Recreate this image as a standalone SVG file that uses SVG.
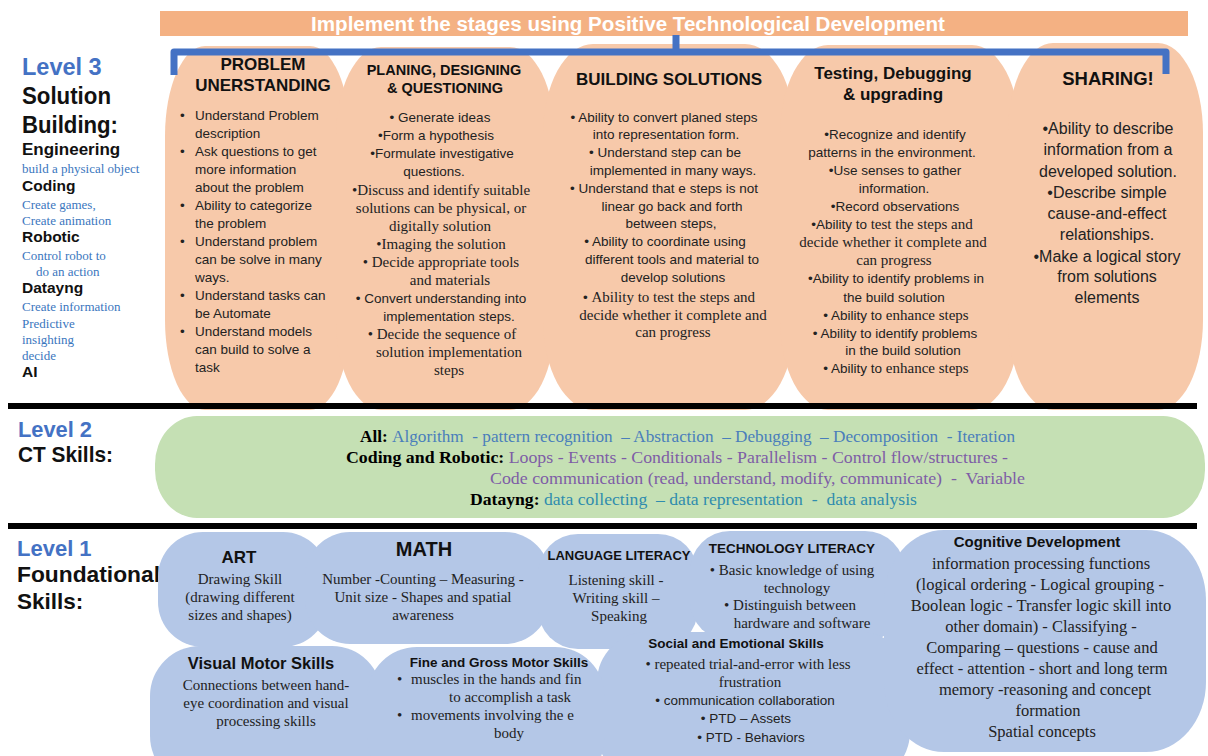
<svg xmlns="http://www.w3.org/2000/svg" width="1208" height="756" viewBox="0 0 1208 756">
<style>
text{font-family:"Liberation Sans",Arial,sans-serif;fill:#222;}
.sr{font-family:"Liberation Serif","Times New Roman",serif;}
.m{text-anchor:middle;}
.hd{font-weight:bold;fill:#111;}
.lv{font-weight:bold;fill:#4472C4;}
.lk{font-weight:bold;fill:#111;}
.sub{font-family:"Liberation Serif","Times New Roman",serif;font-size:13px;fill:#3A76BE;}
.col{fill:#F7C9AA;}
.bl{fill:#B4C7E7;}
.ct{font-family:"Liberation Serif","Times New Roman",serif;font-size:17px;white-space:pre;}
.k{font-weight:bold;fill:#000;}
.c1{fill:#4A7EBB;}
.c2{fill:#7E5DA6;}
.c3{fill:#2F8CAE;}
.w{fill:#fff;}
</style>

<g id="banner">
<rect x="160" y="11" width="1028" height="25" fill="#F4B183"/>
<text class="w m" x="628" y="31" font-size="19.5" font-weight="bold" textLength="634" lengthAdjust="spacingAndGlyphs">Implement the stages using Positive Technological Development</text>
</g>

<g id="level3-label">
<text x="22" y="75" class="lv" font-size="23.5">Level 3</text>
<text x="22" y="104" class="lk" font-size="23" textLength="89" lengthAdjust="spacingAndGlyphs">Solution</text>
<text x="22" y="133" class="lk" font-size="23" textLength="96" lengthAdjust="spacingAndGlyphs">Building:</text>
<text x="22" y="155" class="lk" font-size="17">Engineering</text>
<text x="22" y="173" class="sub">build a physical object</text>
<text x="22" y="191" class="lk" font-size="15.5">Coding</text>
<text x="22" y="209" class="sub">Create games,</text>
<text x="22" y="225" class="sub">Create animation</text>
<text x="22" y="242" class="lk" font-size="15.5">Robotic</text>
<text x="22" y="260" class="sub">Control robot to</text>
<text x="36" y="276" class="sub">do an action</text>
<text x="22" y="293" class="lk" font-size="15.5">Datayng</text>
<text x="22" y="311" class="sub">Create information</text>
<text x="22" y="328" class="sub">Predictive</text>
<text x="22" y="344" class="sub">insighting</text>
<text x="22" y="360" class="sub">decide</text>
<text x="22" y="377" class="lk" font-size="15.5">AI</text>
</g>

<g id="problem-understanding">
<rect class="col" x="165" y="46" width="185" height="364" rx="40" ry="90"/>
<text class="hd m" x="263" y="70" font-size="17">PROBLEM</text>
<text class="hd m" x="263" y="91" font-size="17">UNERSTANDING</text>
<g font-size="13.5">
<text x="180" y="120">•</text><text x="195" y="120">Understand Problem</text>
<text x="195" y="138">description</text>
<text x="180" y="156">•</text><text x="195" y="156">Ask questions to get</text>
<text x="195" y="174">more information</text>
<text x="195" y="192">about the problem</text>
<text x="180" y="210">•</text><text x="195" y="210">Ability to categorize</text>
<text x="195" y="228">the problem</text>
<text x="180" y="246">•</text><text x="195" y="246">Understand problem</text>
<text x="195" y="264">can be solve in many</text>
<text x="195" y="282">ways.</text>
<text x="180" y="300">•</text><text x="195" y="300">Understand tasks can</text>
<text x="195" y="318">be Automate</text>
<text x="180" y="336">•</text><text x="195" y="336">Understand models</text>
<text x="195" y="354">can build to solve a</text>
<text x="195" y="372">task</text>
</g>
</g>

<g id="planning">
<rect class="col" x="336" y="47" width="219" height="363" rx="45" ry="90"/>
<text class="hd m" x="444" y="75" font-size="14.5">PLANING, DESIGNING</text>
<text class="hd m" x="445" y="93" font-size="14.5">&amp; QUESTIONING</text>
<g font-size="13.5" class="m">
<text x="440" y="122">•  Generate ideas</text>
<text x="436" y="140">•Form a hypothesis</text>
<text x="442" y="158">•Formulate investigative</text>
<text x="434" y="176">questions.</text>
<text class="sr" x="441" y="195" font-size="15">•Discuss and identify suitable</text>
<text class="sr" x="441" y="213" font-size="15">solutions can be physical, or</text>
<text class="sr" x="440" y="231" font-size="15">digitally  solution</text>
<text class="sr" x="441" y="249" font-size="15">•Imaging the solution</text>
<text class="sr" x="441" y="267" font-size="15">•  Decide appropriate tools</text>
<text class="sr" x="450" y="285" font-size="15">and materials</text>
<text x="441" y="303">•  Convert understanding into</text>
<text x="449" y="321">implementation steps.</text>
<text class="sr" x="442" y="339" font-size="15">•  Decide the sequence of</text>
<text class="sr" x="449" y="357" font-size="15">solution implementation</text>
<text class="sr" x="449" y="375" font-size="15">steps</text>
</g>
</g>

<g id="building">
<rect class="col" x="543" y="44" width="252" height="366" rx="50" ry="90"/>
<text class="hd m" x="669" y="85" font-size="17">BUILDING SOLUTIONS</text>
<g font-size="13.5" class="m">
<text x="664" y="122">•  Ability to convert planed steps</text>
<text x="666" y="139">into representation form.</text>
<text x="665" y="157">•  Understand step can be</text>
<text x="673" y="175">implemented in many ways.</text>
<text x="664" y="193">•  Understand that e steps is not</text>
<text x="672" y="211">linear go back and forth</text>
<text x="671" y="228">between steps,</text>
<text x="665" y="246">•  Ability to coordinate using</text>
<text x="672" y="264">different tools and material to</text>
<text x="673" y="282">develop solutions</text>
<text x="669" y="302">•  <tspan class="sr" font-size="15">Ability to test the steps and</tspan></text>
<text class="sr" x="673" y="320" font-size="15">decide whether it complete and</text>
<text class="sr" x="673" y="337" font-size="15">can progress</text>
</g>
</g>

<g id="testing">
<rect class="col" x="780" y="45" width="240" height="365" rx="48" ry="90"/>
<text class="hd m" x="893" y="79" font-size="17">Testing, Debugging</text>
<text class="hd m" x="893" y="100" font-size="17">&amp; upgrading</text>
<g font-size="13.5" class="m">
<text x="895" y="139">•Recognize and identify</text>
<text x="892" y="157">patterns in the environment.</text>
<text x="895" y="175">•Use senses to gather</text>
<text x="894" y="193">information.</text>
<text x="895" y="211">•Record observations</text>
<text x="892" y="229">•Ability to <tspan class="sr" font-size="15">test the steps and</tspan></text>
<text class="sr" x="893" y="247" font-size="15">decide whether it complete and</text>
<text class="sr" x="894" y="265" font-size="15">can progress</text>
<text x="896" y="283">•Ability to identify problems in</text>
<text x="894" y="302">the build solution</text>
<text x="896" y="320">•   Ability to <tspan class="sr" font-size="15">enhance steps</tspan></text>
<text x="895" y="338">•   Ability to identify problems</text>
<text x="903" y="355">in the build solution</text>
<text x="896" y="373">•   Ability to <tspan class="sr" font-size="15">enhance steps</tspan></text>
</g>
</g>

<g id="sharing">
<rect class="col" x="1008" y="43" width="195" height="367" rx="45" ry="90"/>
<text class="hd m" x="1108" y="85" font-size="18.5">SHARING!</text>
<g font-size="16" class="m">
<text x="1108" y="134">•Ability to describe</text>
<text x="1108" y="155">information from a</text>
<text x="1108" y="177">developed solution.</text>
<text x="1107" y="198">•Describe simple</text>
<text x="1107" y="219">cause-and-effect</text>
<text x="1107" y="240">relationships.</text>
<text x="1107" y="262">•Make a logical story</text>
<text x="1107" y="282">from solutions</text>
<text x="1107" y="303">elements</text>
</g>
</g>

<g id="connectors">
<path d="M174,75 L174,52 L1166,52 L1166,74 M676,52 L676,35" fill="none" stroke="#4472C4" stroke-width="7" stroke-linejoin="round"/>
</g>

<g id="separators">
<rect x="8" y="403" width="1189" height="6" fill="#000"/>
<rect x="8" y="523" width="1189" height="6" fill="#000"/>
</g>

<g id="level2-label">
<text x="18" y="437" class="lv" font-size="22" textLength="74" lengthAdjust="spacingAndGlyphs">Level 2</text>
<text x="18" y="462" class="lk" font-size="22" textLength="95" lengthAdjust="spacingAndGlyphs">CT Skills:</text>
</g>

<g id="ct-skills">
<rect x="155" y="416" width="1050" height="102" rx="42" ry="48" fill="#C5E0B4"/>
<text class="ct" x="360" y="442" textLength="655" lengthAdjust="spacingAndGlyphs"><tspan class="k">All: </tspan><tspan class="c1">Algorithm  - pattern recognition  – Abstraction  – Debugging  – Decomposition  - Iteration</tspan></text>
<text class="ct" x="346" y="463" textLength="662" lengthAdjust="spacingAndGlyphs"><tspan class="k">Coding and Robotic: </tspan><tspan class="c2">Loops - Events - Conditionals - Parallelism - Control flow/structures -</tspan></text>
<text class="ct c2" x="490" y="484" textLength="535" lengthAdjust="spacingAndGlyphs">Code communication (read, understand, modify, communicate)  -  Variable</text>
<text class="ct" x="470" y="505" textLength="447" lengthAdjust="spacingAndGlyphs"><tspan class="k">Datayng: </tspan><tspan class="c3">data collecting  – data representation  -  data analysis</tspan></text>
</g>

<g id="level1-label">
<text x="17" y="556" class="lv" font-size="22">Level 1</text>
<text x="17" y="582" class="lk" font-size="22.5" textLength="143" lengthAdjust="spacingAndGlyphs">Foundational</text>
<text x="17" y="609" class="lk" font-size="22.5">Skills:</text>
</g>

<g id="art">
<rect class="bl" x="158" y="532" width="170" height="115" rx="45" ry="45"/>
<text class="hd m" x="239" y="563" font-size="17">ART</text>
<g class="m" font-size="15">
<text class="sr" x="240" y="584">Drawing Skill</text>
<text class="sr" x="240" y="602">(drawing different</text>
<text class="sr" x="240" y="620">sizes and shapes)</text>
</g>
</g>

<g id="math">
<rect class="bl" x="305" y="532" width="245" height="112" rx="45" ry="45"/>
<text class="hd m" x="424" y="556" font-size="20">MATH</text>
<g class="m" font-size="15">
<text class="sr" x="423" y="584">Number -Counting – Measuring -</text>
<text class="sr" x="423" y="602">Unit size  - Shapes and spatial</text>
<text class="sr" x="423" y="620">awareness</text>
</g>
</g>

<g id="language">
<rect class="bl" x="538" y="534" width="160" height="115" rx="40" ry="40"/>
<text class="hd m" x="619" y="560" font-size="13">LANGUAGE LITERACY</text>
<g class="m" font-size="15">
<text class="sr" x="616" y="585">Listening skill -</text>
<text class="sr" x="616" y="603">Writing skill –</text>
<text class="sr" x="619" y="621">Speaking</text>
</g>
</g>

<g id="technology">
<rect class="bl" x="690" y="531" width="215" height="110" rx="40" ry="40"/>
<text class="hd m" x="792" y="553" font-size="13.5">TECHNOLOGY LITERACY</text>
<g class="m" font-size="15">
<text class="sr" x="792" y="575">•  Basic knowledge of using</text>
<text class="sr" x="797" y="593">technology</text>
<text class="sr" x="790" y="610">•  Distinguish between</text>
<text class="sr" x="802" y="628">hardware and software</text>
</g>
</g>

<g id="social">
<rect class="bl" x="597" y="632" width="313" height="150" rx="50" ry="50"/>
<text class="hd m" x="736" y="648" font-size="13.5">Social and Emotional Skills</text>
<g class="m">
<text class="sr" x="748" y="669" font-size="15">•  repeated trial-and-error  with less</text>
<text class="sr" x="750" y="687" font-size="15">frustration</text>
<text x="745" y="705" font-size="13.5">•   communication collaboration</text>
<text x="746" y="723" font-size="13.5">•   PTD – Assets</text>
<text x="751" y="742" font-size="13.5">•   PTD - Behaviors</text>
</g>
</g>

<g id="visual-motor">
<rect class="bl" x="150" y="646" width="232" height="140" rx="50" ry="50"/>
<text class="hd m" x="261" y="669" font-size="16.5">Visual Motor Skills</text>
<g class="m" font-size="15">
<text class="sr" x="266" y="690">Connections between hand-</text>
<text class="sr" x="266" y="708">eye coordination and visual</text>
<text class="sr" x="266" y="726">processing skills</text>
</g>
</g>

<g id="fine-gross">
<rect class="bl" x="367" y="647" width="238" height="140" rx="50" ry="50"/>
<text class="hd m" x="499" y="667" font-size="13.5">Fine and Gross Motor Skills</text>
<g font-size="15">
<text class="sr" x="397" y="684">•</text><text class="sr" x="411" y="684">muscles in the hands and fin</text>
<text class="sr m" x="510" y="702">to accomplish a task</text>
<text class="sr" x="397" y="720">•</text><text class="sr" x="411" y="720">movements involving the e</text>
<text class="sr m" x="509" y="738">body</text>
</g>
</g>

<g id="cognitive">
<rect class="bl" x="884" y="530" width="322" height="222" rx="60" ry="70"/>
<text class="hd m" x="1037" y="547" font-size="15">Cognitive Development</text>
<g class="m" font-size="16.5">
<text class="sr" x="1041" y="569">information processing functions</text>
<text class="sr" x="1040" y="590">(logical ordering - Logical grouping -</text>
<text class="sr" x="1041" y="611">Boolean logic - Transfer logic skill into</text>
<text class="sr" x="1041" y="632">other domain)  -  Classifying  -</text>
<text class="sr" x="1042" y="653">Comparing  – questions  -  cause and</text>
<text class="sr" x="1042" y="674">effect  - attention -  short and long term</text>
<text class="sr" x="1045" y="695">memory -reasoning and concept</text>
<text class="sr" x="1048" y="716">formation</text>
<text class="sr" x="1042" y="737">Spatial concepts</text>
</g>
</g>
</svg>
